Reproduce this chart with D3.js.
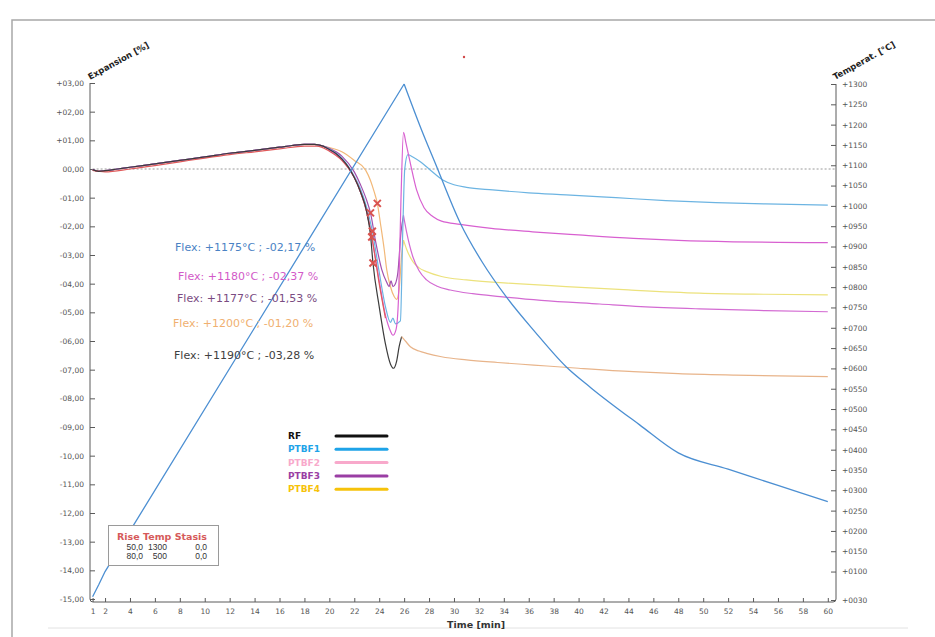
<!DOCTYPE html>
<html>
<head>
  <meta charset="utf-8">
  <title>Dilatometer</title>
  <style type="text/css">
    body { margin: 0; background: #fff; }
    svg { display: block; font-family: 'DejaVu Sans', Verdana, sans-serif; }
  </style>
</head>
<body>

<svg id="vis" width="935" height="637"></svg>

<script src="https://cdnjs.cloudflare.com/ajax/libs/d3/7.8.5/d3.min.js"></script>
<script type="text/javascript">

  // axis ticks
  var timeTicks = [1, 2, 4, 6, 8, 10, 12, 14, 16, 18, 20, 22, 24, 26, 28, 30, 32, 34, 36, 38,
                   40, 42, 44, 46, 48, 50, 52, 54, 56, 58, 60];
  var expTicks = d3.range(-15, 4, 1);
  var tempTicks = [30].concat(d3.range(100, 1301, 50));

  // furnace temperature [min, °C]
  var tempHeating = [[1, 38], [1.5, 68], [2, 100], [14, 700], [26, 1300]];
  var tempCooling = [[26, 1300], [27.4, 1187], [28.5, 1105], [30.5, 958], [32.3, 860],
    [34.2, 776], [36.5, 690], [39, 604], [41, 552], [44.9, 461], [48, 392], [52, 352],
    [56, 312], [60, 272]];

  // expansion curves [min, %]
  var hump = [[1, -0.02], [1.5, -0.08], [2, -0.06], [3, 0.0], [4, 0.06], [6, 0.18], [8, 0.3],
    [10, 0.42], [12, 0.55], [14, 0.65], [16, 0.76], [17, 0.82], [18, 0.86], [18.8, 0.86], [19.5, 0.8]];

  var rfDrop = [[20, 0.68], [20.5, 0.55], [21, 0.35], [21.5, 0.08], [22, -0.3], [22.5, -0.8],
    [23, -1.5], [23.3, -2.3], [23.5, -3.28], [24, -4.8], [24.5, -6.1], [24.9, -6.8], [25.15, -6.95],
    [25.4, -6.7], [25.6, -6.2], [25.8, -5.85], [26.1, -6.0], [26.5, -6.2], [27.2, -6.35],
    [27.8, -6.43], [29, -6.55], [31, -6.66], [33.5, -6.75], [36.4, -6.84], [40, -6.95],
    [44.4, -7.07], [48, -7.14], [52.4, -7.19], [56, -7.22], [60, -7.24]];

  var ptbf1Drop = [[20, 0.7], [21, 0.38], [22, -0.25], [22.5, -0.7], [23, -1.35], [23.45, -2.17],
    [24, -3.6], [24.5, -4.8], [24.9, -5.35], [25.1, -5.2], [25.3, -5.4], [25.7, -5.3], [25.9, -2.0],
    [26.05, 0.0], [26.3, 0.5], [26.7, 0.42], [27.3, 0.25], [28, 0.0], [29.1, -0.38], [30, -0.55],
    [31, -0.64], [33.1, -0.73], [36, -0.83], [39, -0.9], [43, -1.0], [47, -1.1], [51, -1.17],
    [55, -1.22], [60, -1.26]];

  var ptbf2Drop = [[20, 0.66], [21, 0.34], [22, -0.3], [22.5, -0.8], [23, -1.5], [23.4, -2.37],
    [24, -3.9], [24.5, -5.1], [24.9, -5.65], [25.1, -5.8], [25.35, -5.6], [25.55, -4.5],
    [25.75, -1.0], [25.95, 1.28], [26.15, 0.9], [26.5, 0.2], [27, -0.73], [27.6, -1.35],
    [28.3, -1.66], [29, -1.82], [30.5, -1.93], [33, -2.07], [36.3, -2.19], [40, -2.3],
    [44.4, -2.42], [48, -2.49], [52.4, -2.54], [56, -2.56], [60, -2.57]];

  var ptbf3Drop = [[20, 0.72], [21, 0.45], [22, -0.1], [22.5, -0.55], [23, -1.1], [23.3, -1.53],
    [23.7, -2.5], [24.2, -3.5], [24.6, -3.95], [24.8, -4.1], [24.95, -3.9], [25.1, -4.1],
    [25.3, -4.0], [25.5, -3.6], [25.75, -2.2], [25.95, -1.62], [26.2, -2.2], [26.7, -3.06],
    [27.2, -3.55], [27.8, -3.87], [28.6, -4.08], [29.7, -4.22], [31.5, -4.35], [33.7, -4.45],
    [37, -4.58], [41.7, -4.71], [45, -4.8], [49.7, -4.88], [55, -4.94], [60, -4.98]];

  var ptbf4Drop = [[20, 0.75], [21, 0.6], [22, 0.3], [22.9, -0.03], [23.3, -0.4], [23.6, -0.8],
    [23.85, -1.2], [24.1, -1.9], [24.4, -2.8], [24.6, -3.5], [24.9, -4.1], [25.2, -4.45],
    [25.4, -4.55], [25.6, -4.2], [25.8, -3.0], [25.95, -2.48], [26.2, -2.8], [26.7, -3.23],
    [27.2, -3.45], [27.8, -3.58], [29, -3.75], [31, -3.87], [35, -4.0], [39, -4.1], [44, -4.22],
    [49.7, -4.33], [55, -4.37], [60, -4.39]];

  var redCurve = [[1, -0.05], [2, -0.1], [4, 0.0], [6, 0.12], [8, 0.25], [10, 0.38], [12, 0.5],
    [14, 0.6], [16, 0.7], [18, 0.8], [19, 0.8], [20, 0.62], [21, 0.3], [22, -0.3], [22.5, -0.8],
    [23, -1.5], [23.5, -2.6], [24, -4.0], [24.5, -5.2]];

  // flex points
  var flexTime = [23.45, 23.4, 23.3, 23.85, 23.5];
  var flexTemp = [1175, 1180, 1177, 1200, 1190];
  var flexExp = [-2.17, -2.37, -1.53, -1.20, -3.28];

  var legendNames = ['RF', 'PTBF1', 'PTBF2', 'PTBF3', 'PTBF4'];
  var legendColors = ['#111111', '#1ea3e8', '#f8a9cb', '#9a3ea4', '#f6c20a'];

  var programHead = ['Rise', 'Temp', 'Stasis'];
  var programRows = [['50,0', '1300', '0,0'], ['80,0', '500', '0,0']];

  /* layout */
  var svg = d3.select('#vis');
  var x = d3.scaleLinear().domain([1, 60]).range([92.6, 827.8]),
      yExp = d3.scaleLinear().domain([-15, 3]).range([599, 83]),
      yTemp = d3.scaleLinear().domain([30, 1300]).range([600, 84]);

  var axisColor = '#5a5a5a';

  // outer frame
  svg.append('path')
    .attr('d', 'M12,637 L12,20 L935,20')
    .attr('fill', 'none').attr('stroke', '#a8a8a8').attr('stroke-width', 1.5);
  svg.append('line')
    .attr('x1', 48).attr('x2', 908).attr('y1', 628).attr('y2', 628)
    .attr('stroke', '#e2e2e2');
  svg.append('circle').attr('cx', 464).attr('cy', 57).attr('r', 1.2).attr('fill', '#d04848');

  // zero line
  svg.append('line')
    .attr('x1', x(1)).attr('x2', 836).attr('y1', yExp(0)).attr('y2', yExp(0))
    .attr('stroke', '#9a9a9a').attr('stroke-dasharray', '2,2');

  function fmtExp(d) {
    var s = Math.abs(d).toFixed(2).replace('.', ',');
    if (Math.abs(d) < 10) s = '0' + s;
    return (d > 0 ? '+' : d < 0 ? '-' : '') + s;
  }
  function fmtTemp(d) { return '+' + String(d).padStart(4, '0'); }

  var gl = svg.append('g').attr('transform', 'translate(90,0)')
    .call(d3.axisLeft(yExp).tickValues(expTicks).tickFormat(fmtExp).tickSize(-5).tickPadding(6).tickSizeOuter(0));
  var gr = svg.append('g').attr('transform', 'translate(836,0)')
    .call(d3.axisRight(yTemp).tickValues(tempTicks).tickFormat(fmtTemp).tickSize(-5).tickPadding(6).tickSizeOuter(0));
  var gb = svg.append('g').attr('transform', 'translate(0,602)')
    .call(d3.axisBottom(x).tickValues(timeTicks).tickFormat(d3.format('d')).tickSize(-4).tickPadding(7).tickSizeOuter(0));

  [gl, gr, gb].forEach(function(g) {
    g.select('.domain').remove();
    g.selectAll('line').attr('stroke', axisColor);
    g.selectAll('text').attr('fill', '#555').style('font-size', '7.5px')
      .style('font-family', "'DejaVu Sans', Verdana, sans-serif");
  });

  svg.append('path')
    .attr('d', 'M90,83 L90,599 Q90,602 93,602 L833,602 Q836,602 836,599 L836,84')
    .attr('fill', 'none').attr('stroke', axisColor).attr('stroke-width', 1);

  // axis titles
  svg.append('text').attr('transform', 'translate(90,80) rotate(-29)')
    .text('Expansion [%]').attr('font-size', 8.5).attr('font-weight', 'bold').attr('fill', '#222');
  svg.append('text').attr('transform', 'translate(835,80) rotate(-29)')
    .text('Temperat. [°C]').attr('font-size', 8.5).attr('font-weight', 'bold').attr('fill', '#222');
  svg.append('text').attr('x', 447).attr('y', 628)
    .text('Time [min]').attr('font-size', 9.5).attr('font-weight', 'bold').attr('fill', '#333');

  /* curves */
  var line = d3.line()
    .x(function(d) { return x(d[0]) })
    .y(function(d) { return yExp(d[1]) })
    .curve(d3.curveMonotoneX);

  var series = [
    { data: hump.concat(ptbf4Drop), color: '#f2b878', after: '#ece27c', split: 25.95 },
    { data: hump.concat(ptbf3Drop), color: '#a14fae', after: '#d36ad2', split: 25.95 },
    { data: hump.concat(ptbf1Drop), color: '#6cb4e2', after: '#6cb4e2', split: 60 },
    { data: hump.concat(ptbf2Drop), color: '#d860d0', after: '#d860d0', split: 60 },
    { data: redCurve, color: '#e05a5a', after: '#e05a5a', split: 60 },
    { data: hump.concat(rfDrop), color: '#3c3c3c', after: '#e8b48a', split: 25.8 }
  ];

  series.forEach(function(s) {
    var first = s.data.filter(function(d) { return d[0] <= s.split }),
        second = s.data.filter(function(d) { return d[0] >= s.split });
    svg.append('path').attr('d', line(first))
      .attr('fill', 'none').attr('stroke', s.color).attr('stroke-width', 1.2);
    if (second.length > 1) {
      svg.append('path').attr('d', line(second))
        .attr('fill', 'none').attr('stroke', s.after).attr('stroke-width', 1.2);
    }
  });

  // temperature: straight ramp, then natural cooling
  var tHeat = d3.line()
    .x(function(d) { return x(d[0]) })
    .y(function(d) { return yTemp(d[1]) });
  var tCool = d3.line()
    .x(function(d) { return x(d[0]) })
    .y(function(d) { return yTemp(d[1]) })
    .curve(d3.curveMonotoneX);
  svg.append('path').attr('d', tHeat(tempHeating))
    .attr('fill', 'none').attr('stroke', '#4c8fd2').attr('stroke-width', 1.3);
  svg.append('path').attr('d', tCool(tempCooling))
    .attr('fill', 'none').attr('stroke', '#4c8fd2').attr('stroke-width', 1.3);

  // flex markers
  flexTime.forEach(function(t, i) {
    var cx = x(t), cy = yExp(flexExp[i]), r = 3.5;
    svg.append('path')
      .attr('d', 'M' + (cx - r) + ',' + (cy - r) + 'L' + (cx + r) + ',' + (cy + r) +
                 'M' + (cx - r) + ',' + (cy + r) + 'L' + (cx + r) + ',' + (cy - r))
      .attr('stroke', '#d9534f').attr('stroke-width', 2);
  });

  // flex labels
  var flexColors = ['#4a82c4', '#d25ac8', '#7a4c82', '#f0b070', '#404040'];
  var flexPos = [[175, 251], [178, 280], [177, 302], [173, 327], [174, 359]];
  flexTemp.forEach(function(T, i) {
    svg.append('text')
      .attr('x', flexPos[i][0]).attr('y', flexPos[i][1])
      .attr('font-size', 11).attr('fill', flexColors[i])
      .text('Flex: +' + T + '°C ; ' + fmtExp(flexExp[i]) + ' %');
  });

  // legend
  legendNames.forEach(function(n, i) {
    var ly = 436 + i * 13.3;
    svg.append('text').attr('x', 288).attr('y', ly + 3)
      .attr('font-size', 9).attr('font-weight', 'bold').attr('fill', legendColors[i]).text(n);
    svg.append('line').attr('x1', 336).attr('x2', 387).attr('y1', ly).attr('y2', ly)
      .attr('stroke', legendColors[i]).attr('stroke-width', 3).attr('stroke-linecap', 'round');
  });

  // program box
  var box = svg.append('g');
  box.append('rect').attr('x', 108.5).attr('y', 525.5).attr('width', 110).attr('height', 40)
    .attr('fill', '#fff').attr('stroke', '#9a9a9a');
  box.append('text').attr('x', 117).attr('y', 540)
    .attr('font-size', 9.5).attr('font-weight', 'bold').attr('fill', '#d65a5a')
    .text(programHead.join(' '));
  var colX = [143, 167, 207];
  programRows.forEach(function(r, j) {
    r.forEach(function(v, k) {
      box.append('text').attr('x', colX[k]).attr('y', 550 + j * 9)
        .attr('text-anchor', 'end').attr('font-size', 8.5)
        .style('font-family', "'Liberation Sans', Arial, sans-serif")
        .attr('fill', '#333').text(v);
    });
  });

</script>
</body>
</html>
